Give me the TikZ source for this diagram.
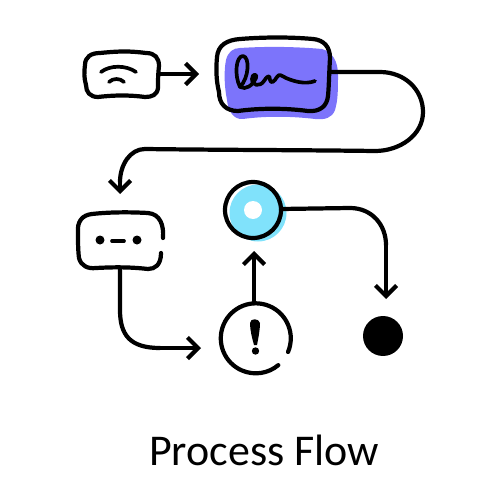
\documentclass[tikz,border=0pt]{standalone}
\usepackage{fontspec}
\setmainfont{Carlito}
\usetikzlibrary{arrows.meta}
\definecolor{sigblue}{HTML}{7C74FB}
\definecolor{skyblue}{HTML}{80E2FB}
\tikzset{
  ink/.style={draw=black,line width=2.4pt,line cap=round,line join=round},
  fineink/.style={draw=black,line width=2.1pt,line cap=round,line join=round},
  flow/.style={ink,-{Straight Barb[length=6pt,width=12pt,line width=2.4pt]}},
  dot/.style={circle,fill=black,inner sep=0pt},
  title/.style={font=\fontsize{25pt}{28pt}\selectfont,text=black}
}
\begin{document}
\begin{tikzpicture}[x=0.02cm,y=-0.02cm]
\useasboundingbox (0,0) rectangle (500,500);
% named anchors
\coordinate (wifiR) at (159,74);
\coordinate (sigR) at (330,72);
\coordinate (dashT) at (120,194);
\coordinate (dashB) at (120,269);
\coordinate (alertL) at (201,348);
\coordinate (alertT) at (254,303);
\coordinate (ringB) at (254,251);
\coordinate (ringR) at (281,209);
\coordinate (dotT) at (386,299);
% signature card fill
\fill[sigblue] (240,48) .. controls (270,46) and (300,47) .. (322,49) .. controls (333,52) and (338,62) .. (338,75)
  .. controls (338,90) and (338,100) .. (335,110) .. controls (332,118) and (325,120) .. (315,119)
  .. controls (290,116) and (265,116) .. (243,119) .. controls (233,120) and (228,110) .. (227,100)
  .. controls (224,85) and (224,70) .. (226,60) .. controls (228,52) and (233,48) .. (240,48) -- cycle;
% ring fill
\fill[skyblue] (258,213) circle[radius=28.5];
\fill[white] (253,210) circle[radius=9];
% wifi box
\path[ink] (100,53) .. controls (120,51) and (130,51) .. (146,53) .. controls (155,53) and (159,58) .. (159,66)
  .. controls (158,75) and (158,80) .. (158,88) .. controls (157,95) and (152,97) .. (145,97)
  .. controls (130,95) and (115,95) .. (98,97) .. controls (90,97) and (86,92) .. (86,85)
  .. controls (84,78) and (84,72) .. (85,65) .. controls (85,57) and (91,53) .. (100,53) -- cycle;
\path[fineink] (101,72) .. controls (110,65) and (126,65) .. (136,72);
\path[fineink] (109,82) .. controls (113,78) and (120,78) .. (124,82);
% signature box
\path[ink] (240,39) .. controls (265,37) and (290,37) .. (313,39) .. controls (324,40) and (330,47) .. (330,58)
  .. controls (329,75) and (329,85) .. (328,96) .. controls (327,106) and (320,112) .. (308,111)
  .. controls (285,108) and (260,108) .. (238,111) .. controls (226,111) and (219,104) .. (219,92)
  .. controls (216,80) and (216,68) .. (217,57) .. controls (218,45) and (227,40) .. (240,39) -- cycle;
% scribble
\path[fineink] (240,87) .. controls (234,75) and (236,56) .. (243,56) .. controls (250,57) and (249,78) .. (240,87)
  .. controls (246,90) and (252,86) .. (256,78) .. controls (258,74) and (252,73) .. (252,79)
  .. controls (252,86) and (260,87) .. (264,81) .. controls (267,76) and (270,74) .. (270,80)
  .. controls (271,84) and (274,82) .. (277,77) .. controls (279,73) and (282,76) .. (286,78)
  .. controls (293,81) and (305,85) .. (315,81);
% dash box
\path[ink] (163,238) .. controls (164,225) and (160,214) .. (148,213)
  .. controls (130,212) and (110,212) .. (92,214) .. controls (82,215) and (77,222) .. (78,232)
  .. controls (78,242) and (78,250) .. (79,258) .. controls (81,266) and (88,269) .. (96,268)
  .. controls (115,267) and (130,267) .. (148,269) .. controls (155,269) and (161,265) .. (161,253);
\node[dot,minimum size=0.18cm] (d1) at (100,240) {};
\node[dot,minimum size=0.18cm] (d2) at (137,240) {};
\path[fineink] (112,241) -- (124,241);
% ring
\draw[ink] (253,210) circle[radius=28];
% alert
\path[ink] (288,352) arc[start angle=-23,end angle=310,x radius=35,y radius=-35];
\fill[black] (250,323) .. controls (250,318) and (259,318) .. (260,323) .. controls (260,330) and (258,340) .. (257,345) -- (254,345) .. controls (252,338) and (250,330) .. (250,323) -- cycle;
\fill[black] (255.5,351) circle[radius=3.7];
% target
\node[dot,minimum size=0.8cm] (target) at (383,336) {};
% connectors
\draw[flow] (wifiR) -- (199,74);
\path[ink] (sigR) -- (380,72) .. controls (405,72) and (423,90) .. (423,112)
  .. controls (423,135) and (400,151) .. (375,151) .. controls (300,150) and (220,150) .. (145,149)
  .. controls (130,149) and (120,165) .. (120,182);
\draw[flow] (120,181) -- (dashT);
\path[ink] (dashB) -- (120,310) .. controls (120,335) and (130,348) .. (160,348);
\draw[flow] (159,348) -- (alertL);
\draw[flow] (alertT) -- (ringB);
\path[ink] (ringR) -- (350,208) .. controls (372,208) and (386,225) .. (386,245);
\draw[flow] (386,244) -- (dotT);
\node[title] (ttl) at (264,450) {Process Flow};
\end{tikzpicture}
\end{document}
